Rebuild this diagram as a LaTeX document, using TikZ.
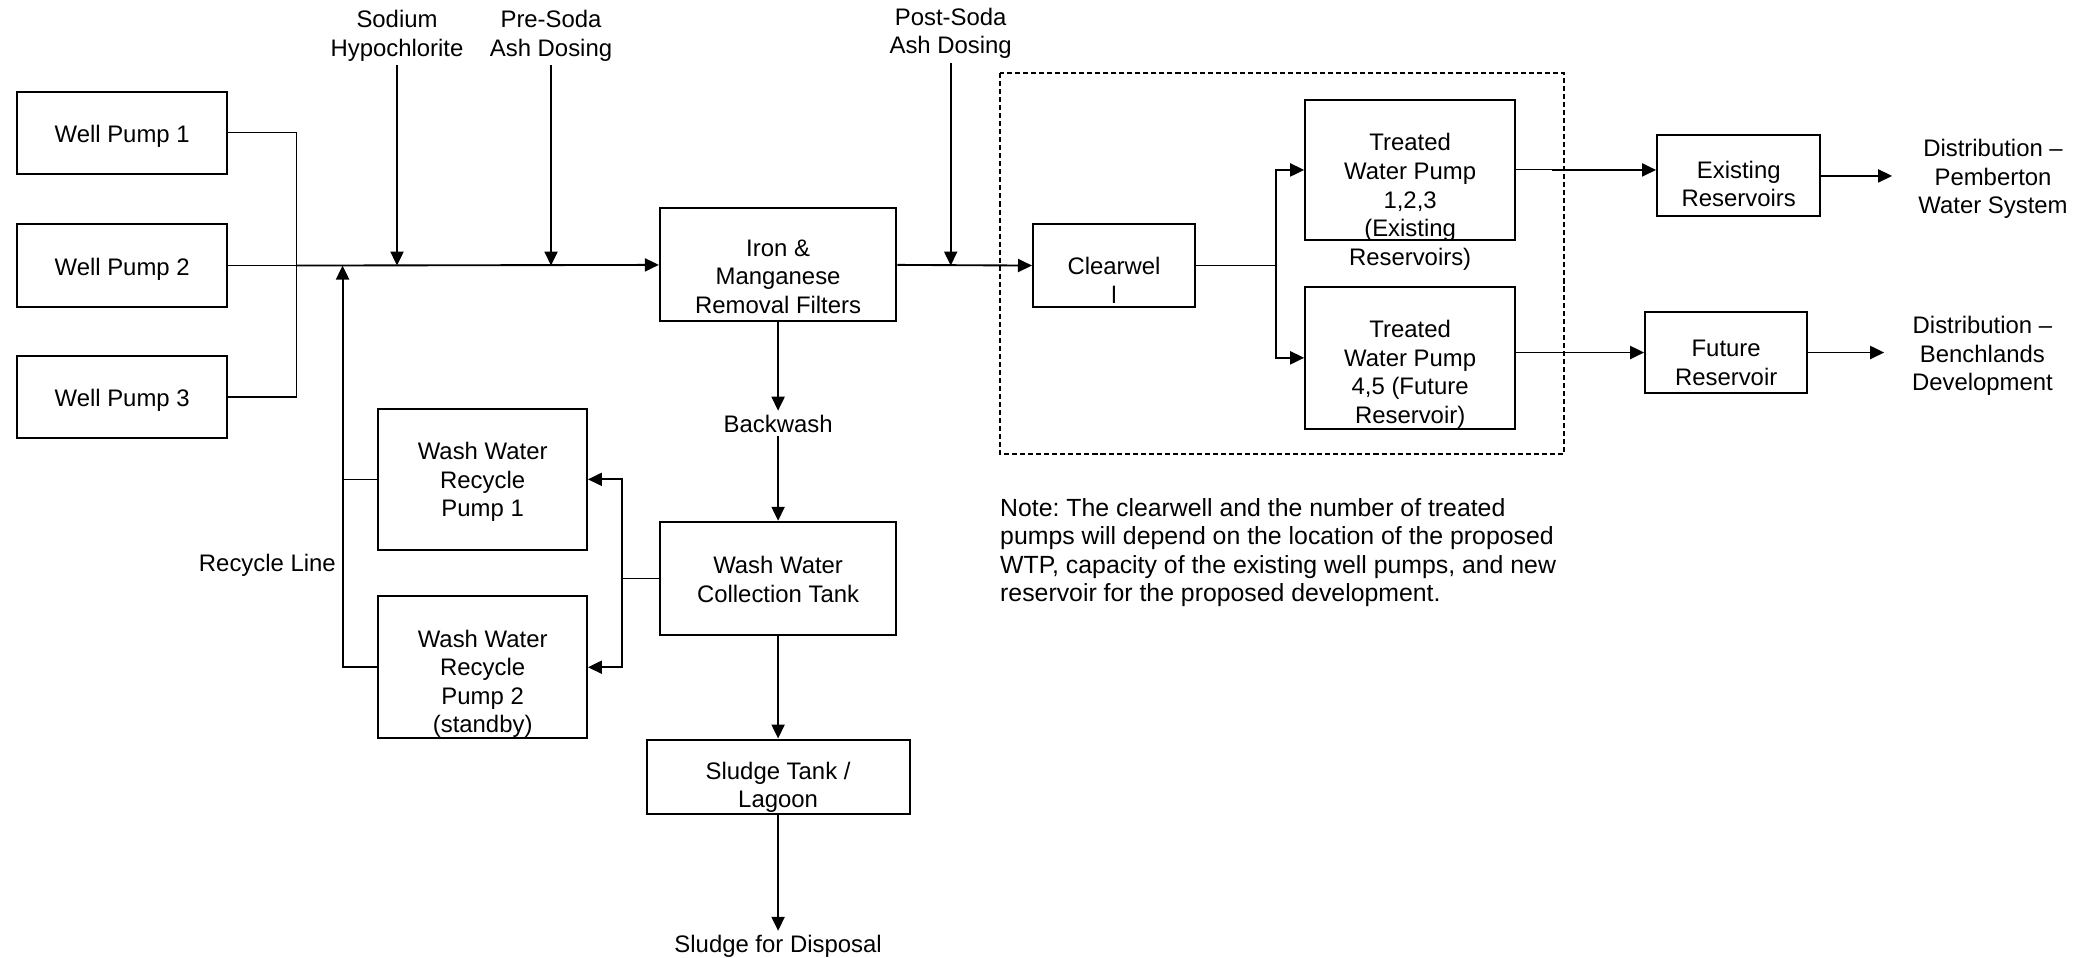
\documentclass[tikz,border=0pt]{standalone}
\usepackage{fontspec}
\setmainfont{Liberation Sans}
\usetikzlibrary{arrows.meta}
\frenchspacing

\begin{document}
\begin{tikzpicture}[x=0.025cm,y=-0.025cm,
  every node/.style={font=\fontsize{12.8}{15.3}\selectfont,align=center,inner sep=2pt},
  box/.style={draw,line width=1.1pt,inner sep=0pt},
  flow/.style={line width=1pt,-{Triangle[length=7.5pt,width=7pt]}},
  pipe/.style={line width=0.55pt}]
\useasboundingbox (0,0) rectangle (1568,721);

% wells and main line
\foreach \i/\y in {1/100,2/200,3/299}{
  \node[box,minimum width=3.95cm,minimum height=1.55cm] (wp\i) at (92,\y) {};
  \node (wp\i text) at (92,\y+2.5) {Well Pump \i};
}
\coordinate (join) at (223,200);
\draw[pipe] (wp1.east) -| (join) |- (wp3.east);
\draw[pipe] (wp2.east) -- (join);

\node[box,minimum width=4.45cm,minimum height=2.125cm] (filter) at (586,199.5) {};
\node (filtertext) at (586,208.5) {Iron \&\\Manganese\\Removal Filters};
\draw[flow] (join) -- (filter.west);

\node (sodium) at (299,27) {Sodium\\Hypochlorite};
\node (presoda) at (415,27) {Pre-Soda\\Ash Dosing};
\node (postsoda) at (716,25) {Post-Soda\\Ash Dosing};
\draw[flow] (sodium.south) -- (sodium.south |- join);
\draw[flow] (presoda.south) -- (presoda.south |- join);

% clearwell and treated water pumps
\draw[line width=1pt,dash pattern=on 2.7pt off 1.6pt] (753,55) rectangle (1178,342);
\node[box,minimum width=3.05cm,minimum height=1.55cm] (clw) at (839,200) {};
\node (clwtext) at (839,211) {Clearwel\\l};
\draw[flow] (filter.east) -- (clw.west);
\draw[flow] (postsoda.south) -- (postsoda.south |- clw.west);

\node[box,minimum width=3.95cm,minimum height=2.65cm] (tpa) at (1062,128) {};
\node (tpatext) at (1062,152) {Treated\\Water Pump\\1,2,3\\(Existing\\Reservoirs)};
\node[box,minimum width=3.95cm,minimum height=2.675cm] (tpb) at (1062,269.5) {};
\node (tpbtext) at (1062,282) {Treated\\Water Pump\\4,5 (Future\\Reservoir)};
\draw[pipe] (clw.east) -- ++(60,0) coordinate (csplit);
\draw[flow] (csplit) |- (tpa.west);
\draw[flow] (csplit) |- (tpb.west);

% reservoirs and distribution
\node[box,minimum width=3.075cm,minimum height=1.525cm] (exres) at (1309.5,132.5) {};
\node (exrestext) at (1309.5,138.5) {Existing\\Reservoirs};
\node[box,minimum width=3.05cm,minimum height=1.525cm] (fures) at (1300,265.5) {};
\node (furestext) at (1300,273.5) {Future\\Reservoir};
\draw[pipe] (tpa.east) -- ++(27,0) coordinate (tpaout);
\draw[flow] (tpaout) -- (tpaout -| exres.west);
\draw[flow] (tpb.east |- fures.west) -- (fures.west);
\node (dista) at (1501,135) {Distribution –\\Pemberton\\Water System};
\node (distb) at (1493,268) {Distribution –\\Benchlands\\Development};
\coordinate (distain) at (1425,132.5);
\coordinate (distbin) at (1419,265.5);
\draw[flow] (exres.east) -- (distain);
\draw[flow] (fures.east) -- (distbin);

\node[anchor=north west,align=left,inner sep=0pt,font=\fontsize{13.3}{15.3}\selectfont] (note) at (753,375) {Note: The clearwell and the number of treated\\pumps will depend on the location of the proposed\\WTP, capacity of the existing well pumps, and new\\reservoir for the proposed development.};

% backwash and recycle
\node (backwash) at (586,319) {Backwash};
\node[box,minimum width=4.45cm,minimum height=2.125cm] (tank) at (586,435.5) {};
\node (tanktext) at (586,436.5) {Wash Water\\Collection Tank};
\draw[flow] (filter.south) -- (backwash.north);
\draw[flow] (backwash.south) -- (tank.north);

\node[box,minimum width=3.925cm,minimum height=2.65cm] (rpa) at (363.5,361) {};
\node (rpatext) at (363.5,363) {Wash Water\\Recycle\\Pump 1};
\node[box,minimum width=3.925cm,minimum height=2.675cm] (rpb) at (363.5,502.5) {};
\node (rpbtext) at (363.5,515) {Wash Water\\Recycle\\Pump 2\\(standby)};
\draw[pipe] (tank.west) -- ++(-28,0) coordinate (tsplit);
\draw[flow] (tsplit) |- (rpa.east);
\draw[flow] (tsplit) |- (rpb.east);

\coordinate (recin) at (258,200);
\draw[flow] (rpb.west) -| (recin);
\draw[pipe] (rpa.west) -- (rpa.west -| recin);
\node[anchor=east] (recycle) at (256,426) {Recycle Line};

\node[box,minimum width=4.95cm,minimum height=1.4cm] (sludge) at (586,585) {};
\node (sludgetext) at (586,593) {Sludge Tank /\\Lagoon};
\node (disposal) at (586,712.5) {Sludge for Disposal};
\draw[flow] (tank.south) -- (sludge.north);
\draw[flow] (sludge.south) -- (disposal.north);
\end{tikzpicture}
\end{document}
